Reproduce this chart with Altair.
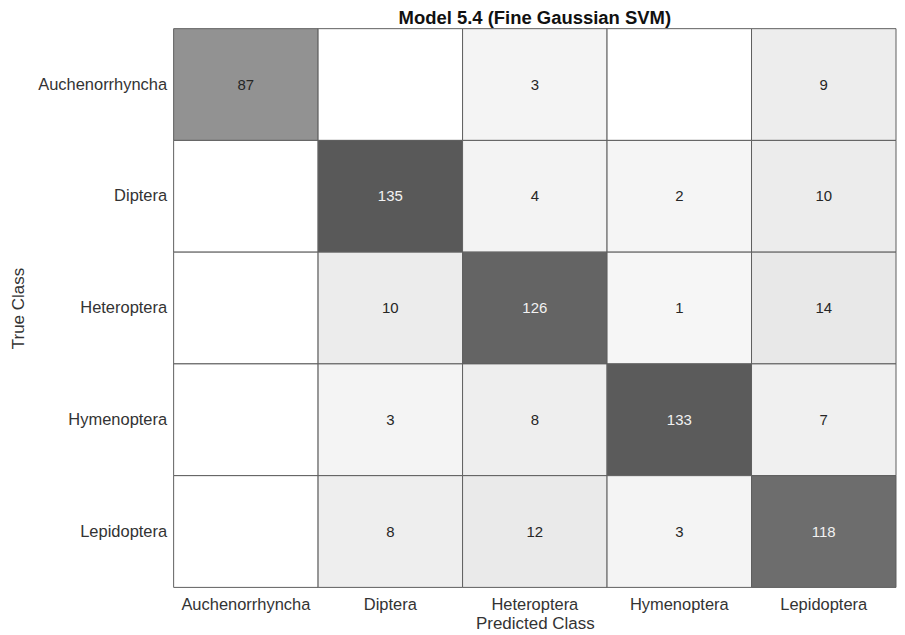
import altair as alt
import pandas as pd

classes = ["Auchenorrhyncha", "Diptera", "Heteroptera", "Hymenoptera", "Lepidoptera"]
# rows = true class, columns = predicted class
counts = [
    [87, 0, 3, 0, 9],
    [0, 135, 4, 2, 10],
    [0, 10, 126, 1, 14],
    [0, 3, 8, 133, 7],
    [0, 8, 12, 3, 118],
]

records = []
for i, t in enumerate(classes):
    for j, p in enumerate(classes):
        records.append({"True Class": t, "Predicted Class": p, "count": counts[i][j]})
df = pd.DataFrame(records)

FONT = "Liberation Sans"

x_enc = alt.X("Predicted Class:N", sort=classes,
              axis=alt.Axis(title="Predicted Class", labelAngle=0, ticks=False, domain=False,
                            labelPadding=9, titlePadding=3, labelFontSize=16.5, titleFontSize=17,
                            labelColor="#333333", titleColor="#333333", labelFont=FONT,
                            titleFont=FONT, titleFontWeight="normal"))
y_enc = alt.Y("True Class:N", sort=classes,
              axis=alt.Axis(title="True Class", ticks=False, domain=False,
                            labelPadding=7, titlePadding=10, labelFontSize=16.5, titleFontSize=17,
                            labelColor="#333333", titleColor="#333333", labelFont=FONT,
                            titleFont=FONT, titleFontWeight="normal"))

rects = alt.Chart(df).mark_rect(stroke="#5f5f5f", strokeWidth=1).encode(
    x=x_enc,
    y=y_enc,
    color=alt.Color("count:Q", legend=None,
                    scale=alt.Scale(domain=[0, 1, 14, 135],
                                    range=["#ffffff", "#f6f6f6", "#e8e8e8", "#595959"],
                                    interpolate="rgb")),
)

texts = alt.Chart(df).transform_filter("datum.count > 0").mark_text(
    fontSize=15, font=FONT
).encode(
    x=alt.X("Predicted Class:N", sort=classes),
    y=alt.Y("True Class:N", sort=classes),
    text="count:Q",
    color=alt.condition("datum.count > 100", alt.value("#f2f2f2"), alt.value("#262626")),
)

chart = alt.layer(rects, texts).properties(
    width=724, height=560,
    padding={"left": 1, "top": 0, "right": 0, "bottom": 2},
    title=alt.Title("Model 5.4 (Fine Gaussian SVM)", fontSize=18.5, fontWeight="bold",
                    font=FONT, color="#111111", offset=1, anchor="middle"),
).configure_view(stroke=None).configure_scale(bandPaddingInner=0, bandPaddingOuter=0)

chart.save("out.html", embed_options={"renderer": "svg", "actions": False})
